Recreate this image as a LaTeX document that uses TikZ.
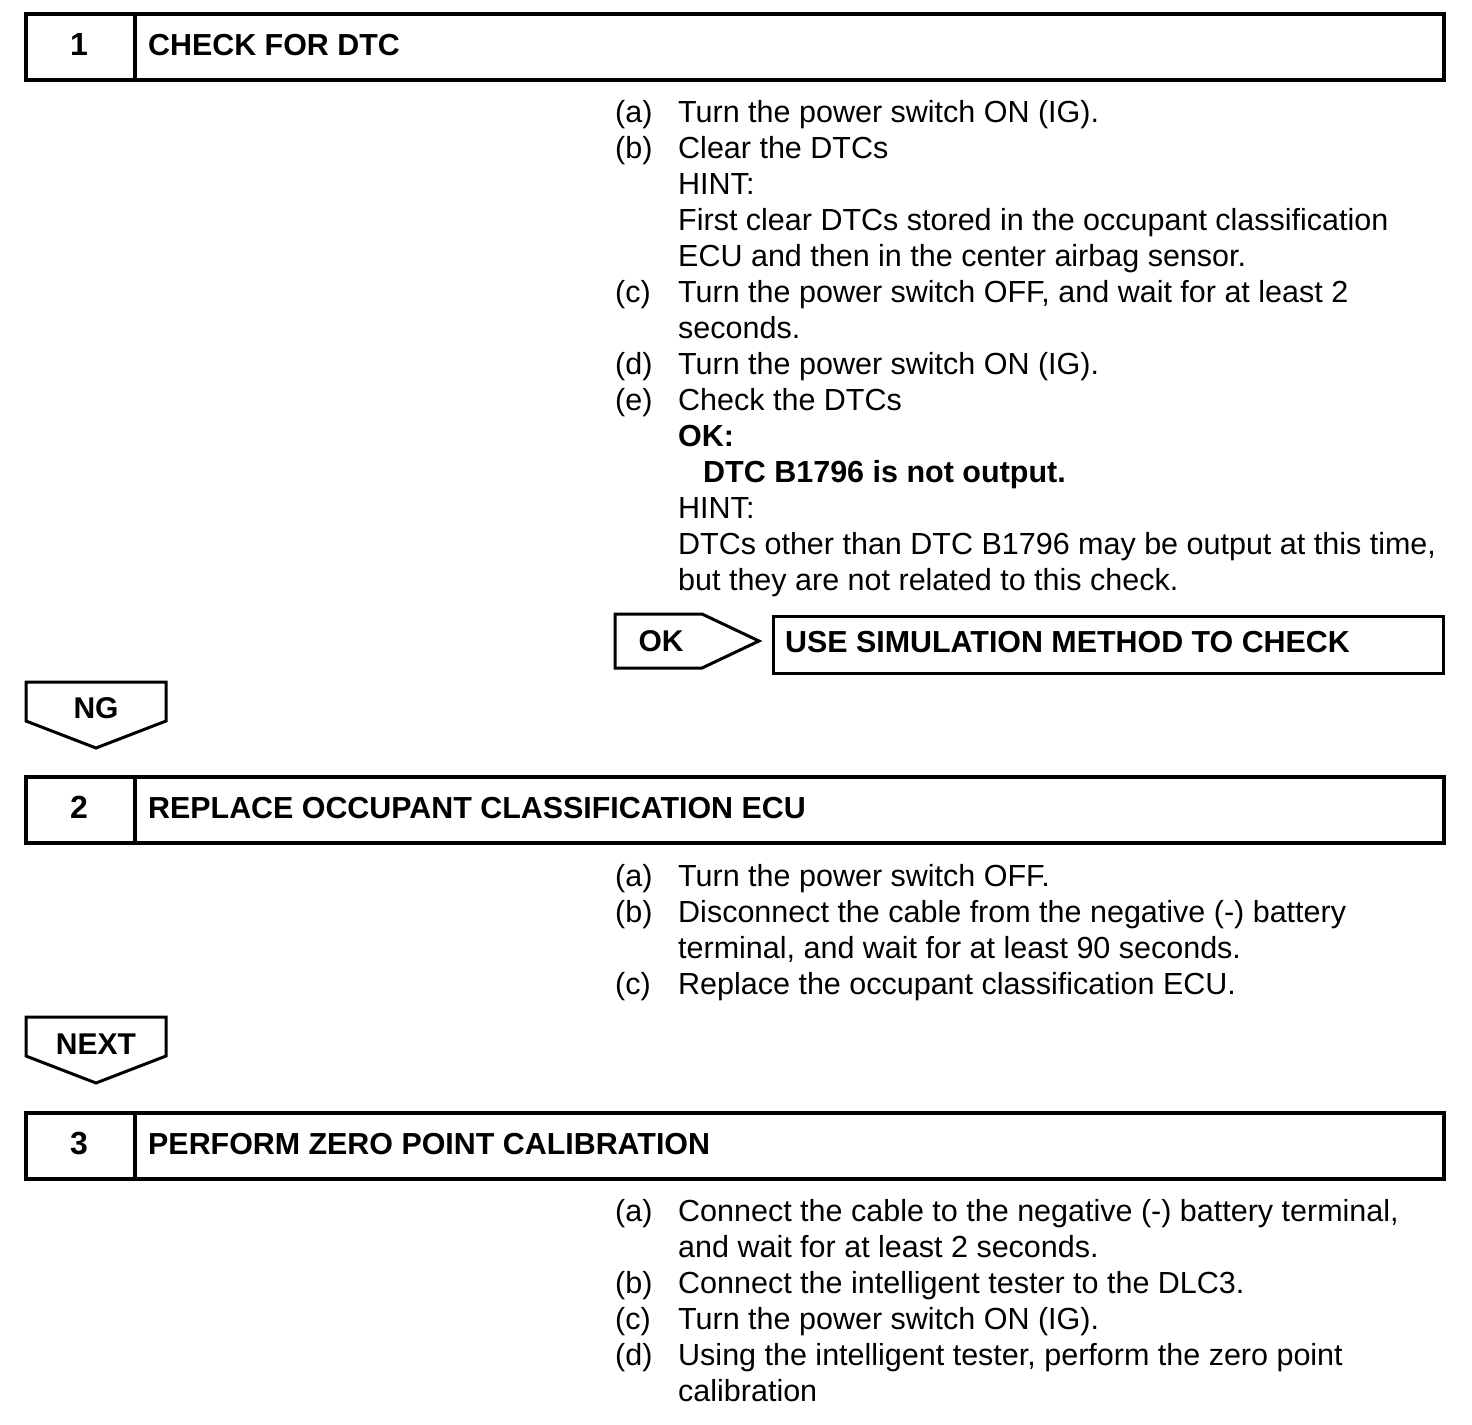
\documentclass[tikz,border=0pt]{standalone}
\usepackage{fontspec}
\setmainfont{Liberation Sans}
\begin{document}
\begin{tikzpicture}[x=1pt,y=-1pt,
 body/.style={anchor=base west, inner sep=0pt, font=\fontsize{30.5}{36}\selectfont},
 bodyb/.style={anchor=base west, inner sep=0pt, font=\fontsize{30.5}{36}\selectfont\bfseries},
 hbox/.style={draw, line width=4pt, minimum width=1418pt, minimum height=66pt, anchor=north west, inner sep=0pt},
 num/.style={anchor=base, inner sep=0pt, font=\fontsize{32}{36}\selectfont\bfseries},
 htext/.style={anchor=base west, inner sep=0pt, font=\fontsize{30.4}{36}\selectfont\bfseries},
 tag/.style={line width=3pt, line join=miter},
 tagtext/.style={anchor=base, inner sep=0pt, font=\fontsize{30}{34}\selectfont\bfseries}]
\useasboundingbox[fill=white] (0,0) rectangle (1472,1424);

% ---------- Step 1 ----------
\node[hbox] (box1) at (24,12) {};
\draw[line width=4pt] ([xshift=110.5pt]box1.north west) -- ([xshift=110.5pt]box1.south west);
\node[num] (n1) at (79,55) {1};
\node[htext] (h1) at (148,55) {CHECK FOR DTC};

\node[body] (l1a) at (615,122) {(a)};
\node[body] (t1a) at (678,122) {Turn the power switch ON (IG).};
\node[body] (l1b) at (615,158) {(b)};
\node[body] (t1b) at (678,158) {Clear the DTCs};
\node[body] (t1b2) at (678,194) {HINT:};
\node[body] (t1b3) at (678,230) {First clear DTCs stored in the occupant classification};
\node[body] (t1b4) at (678,266) {ECU and then in the center airbag sensor.};
\node[body] (l1c) at (615,302) {(c)};
\node[body] (t1c) at (678,302) {Turn the power switch OFF, and wait for at least 2};
\node[body] (t1c2) at (678,338) {seconds.};
\node[body] (l1d) at (615,374) {(d)};
\node[body] (t1d) at (678,374) {Turn the power switch ON (IG).};
\node[body] (l1e) at (615,410) {(e)};
\node[body] (t1e) at (678,410) {Check the DTCs};
\node[bodyb] (t1e2) at (678,446) {OK:};
\node[bodyb] (t1e3) at (703,482) {DTC B1796 is not output.};
\node[body] (t1e4) at (678,518) {HINT:};
\node[body] (t1e5) at (678,554) {DTCs other than DTC B1796 may be output at this time,};
\node[body] (t1e6) at (678,590) {but they are not related to this check.};

% OK tag and result box
\draw[tag] (615,614) -- (702,614) -- (759,641) -- (702,668) -- (615,668) -- cycle;
\node[tagtext] (ok) at (661,651) {OK};
\node[draw, line width=3pt, minimum width=670pt, minimum height=57pt, anchor=north west, inner sep=0pt] (res) at (772,615) {};
\node[htext] (rest) at (785,652) {USE SIMULATION METHOD TO CHECK};

% NG tag
\draw[tag] (26,682) -- (166,682) -- (166,721) -- (96,748) -- (26,721) -- cycle;
\node[tagtext] (ng) at (96,718) {NG};

% ---------- Step 2 ----------
\node[hbox] (box2) at (24,775) {};
\draw[line width=4pt] ([xshift=110.5pt]box2.north west) -- ([xshift=110.5pt]box2.south west);
\node[num] (n2) at (79,818) {2};
\node[htext] (h2) at (148,818) {REPLACE OCCUPANT CLASSIFICATION ECU};

\node[body] (l2a) at (615,886) {(a)};
\node[body] (t2a) at (678,886) {Turn the power switch OFF.};
\node[body] (l2b) at (615,922) {(b)};
\node[body] (t2b) at (678,922) {Disconnect the cable from the negative (-) battery};
\node[body] (t2b2) at (678,958) {terminal, and wait for at least 90 seconds.};
\node[body] (l2c) at (615,994) {(c)};
\node[body] (t2c) at (678,994) {Replace the occupant classification ECU.};

% NEXT tag
\draw[tag] (26,1017) -- (166,1017) -- (166,1056) -- (96,1083) -- (26,1056) -- cycle;
\node[tagtext] (next) at (96,1054) {NEXT};

% ---------- Step 3 ----------
\node[hbox] (box3) at (24,1111) {};
\draw[line width=4pt] ([xshift=110.5pt]box3.north west) -- ([xshift=110.5pt]box3.south west);
\node[num] (n3) at (79,1154) {3};
\node[htext] (h3) at (148,1154) {PERFORM ZERO POINT CALIBRATION};

\node[body] (l3a) at (615,1221) {(a)};
\node[body] (t3a) at (678,1221) {Connect the cable to the negative (-) battery terminal,};
\node[body] (t3a2) at (678,1257) {and wait for at least 2 seconds.};
\node[body] (l3b) at (615,1293) {(b)};
\node[body] (t3b) at (678,1293) {Connect the intelligent tester to the DLC3.};
\node[body] (l3c) at (615,1329) {(c)};
\node[body] (t3c) at (678,1329) {Turn the power switch ON (IG).};
\node[body] (l3d) at (615,1365) {(d)};
\node[body] (t3d) at (678,1365) {Using the intelligent tester, perform the zero point};
\node[body] (t3d2) at (678,1401) {calibration};
\end{tikzpicture}
\end{document}
